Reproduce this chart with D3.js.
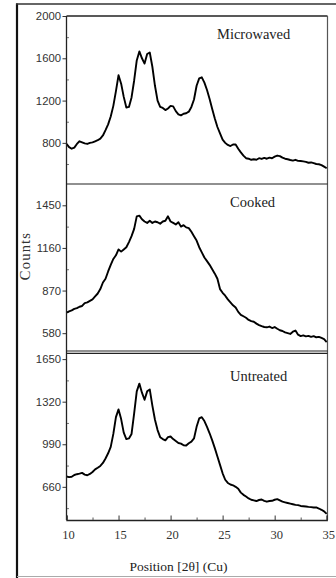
<!DOCTYPE html>
<html>
<head>
<meta charset="utf-8">
<script src="https://cdn.jsdelivr.net/npm/d3@7"></script>
<style>
  html, body { margin: 0; padding: 0; background: #fff; }
  svg { display: block; }
</style>
</head>
<body>
<svg id="chart" width="336" height="578"></svg>
<script>
// Diffraction angle (2θ, degrees) shared by all three patterns
const twoTheta = [
  10, 10.25, 10.5, 10.75, 11, 11.25, 11.5, 11.75, 12, 12.25, 12.5, 12.75,
  13, 13.25, 13.5, 13.75, 14, 14.25, 14.5, 14.75, 15, 15.25, 15.5, 15.75,
  16, 16.25, 16.5, 16.75, 17, 17.25, 17.5, 17.75, 18, 18.25, 18.5, 18.75,
  19, 19.25, 19.5, 19.75, 20, 20.25, 20.5, 20.75, 21, 21.25, 21.5, 21.75,
  22, 22.25, 22.5, 22.75, 23, 23.25, 23.5, 23.75, 24, 24.25, 24.5, 24.75,
  25, 25.25, 25.5, 25.75, 26, 26.25, 26.5, 26.75, 27, 27.25, 27.5, 27.75,
  28, 28.25, 28.5, 28.75, 29, 29.25, 29.5, 29.75, 30, 30.25, 30.5, 30.75,
  31, 31.25, 31.5, 31.75, 32, 32.25, 32.5, 32.75, 33, 33.25, 33.5, 33.75,
  34, 34.25, 34.5, 34.75, 35
];

// Counts for each sample
const microwaved = [
  790, 760, 745, 755, 790, 815, 805, 795, 790, 800, 805, 815,
  825, 840, 870, 920, 975, 1050, 1150, 1290, 1440, 1360, 1235, 1135,
  1140, 1230, 1390, 1580, 1665, 1600, 1550, 1640, 1655, 1520, 1340, 1200,
  1140, 1130, 1110, 1125, 1150, 1145, 1100, 1070, 1060, 1075, 1080, 1095,
  1140, 1210, 1340, 1410, 1420, 1370, 1300, 1215, 1120, 1030, 950, 890,
  830, 800, 780, 770, 785, 785, 745, 710, 680, 655, 650, 640,
  645, 640, 655, 648, 658, 650, 660, 655, 670, 680, 675, 660,
  650, 645, 638, 632, 640, 630, 628, 625, 620, 612, 615, 608,
  600, 598, 590, 575, 560
];

const cooked = [
  720, 728, 735, 745, 750, 760, 765, 785, 790, 800, 810, 830,
  850, 880, 925, 950, 1000, 1045, 1085, 1110, 1150, 1135, 1150, 1165,
  1200, 1240, 1290, 1375, 1380, 1355, 1340, 1330, 1345, 1330, 1340, 1335,
  1325, 1340, 1345, 1375, 1340, 1330, 1320, 1335, 1305, 1315, 1300, 1295,
  1270, 1240, 1210, 1165, 1130, 1095, 1070, 1045, 1015, 985, 950, 880,
  855, 835, 810, 790, 770, 755, 725, 705, 695, 685, 670, 662,
  658, 645, 635, 628, 622, 620, 625, 615, 622, 610, 600, 595,
  585, 580, 575, 590, 598, 570, 560, 565, 558, 562, 555, 560,
  552, 555, 548, 540, 520
];

const untreated = [
  740, 735, 738, 752, 758, 762, 768, 755, 750, 760, 775, 795,
  808, 822, 845, 880, 920, 970, 1070, 1200, 1260, 1185, 1080, 1030,
  1035, 1070, 1230, 1400, 1460, 1390, 1335, 1400, 1415, 1290, 1180, 1100,
  1045, 1030, 1020, 1045, 1050, 1030, 1015, 1000, 995, 982, 980, 998,
  1010, 1035, 1125, 1190, 1200, 1170, 1125, 1075, 1020, 960, 895, 830,
  765, 715, 690, 678, 672, 660, 645, 615, 598, 585, 570, 560,
  555, 550, 558, 562, 552, 545, 550, 552, 560, 565, 555, 545,
  540, 535, 530, 525, 520, 518, 512, 510, 508, 505, 503, 500,
  500, 492, 482, 470, 450
];

// Sample names and axis ticks
const sampleNames = ["Microwaved", "Cooked", "Untreated"];
const xTicks = [10, 15, 20, 25, 30, 35];
const xMinorTicks = [12.5, 17.5, 22.5, 27.5, 32.5];
const microwavedTicks = [800, 1200, 1600, 2000];
const microwavedMinor = [600, 1000, 1400, 1800];
const cookedTicks = [580, 870, 1160, 1450];
const cookedMinor = [725, 1015, 1305];
const untreatedTicks = [660, 990, 1320, 1650];
const untreatedMinor = [495, 825, 1155, 1485];

const svg = d3.select("#chart");
const W = 336, H = 578;

const plotLeft = 66.5, plotRight = 327.5;
const panelTops = [16, 184, 352];
const panelH = 168;

const x = d3.scaleLinear().domain([10, 35]).range([plotLeft, plotRight - 0.8]);

const panels = [
  { name: sampleNames[0], values: microwaved, domain: [411, 2000], ticks: microwavedTicks, minor: microwavedMinor, lx: 217, ly: 39 },
  { name: sampleNames[1], values: cooked, domain: [452, 1595], ticks: cookedTicks, minor: cookedMinor, lx: 230, ly: 207 },
  { name: sampleNames[2], values: untreated, domain: [403, 1705], ticks: untreatedTicks, minor: untreatedMinor, lx: 230, ly: 381 }
];

const frameColor = "#222";

// Outer figure border
svg.append("line").attr("x1", 17).attr("x2", 17).attr("y1", 3.5).attr("y2", H)
  .attr("stroke", "#111").attr("stroke-width", 2.2);
svg.append("line").attr("x1", 16).attr("x2", W).attr("y1", 4).attr("y2", 4)
  .attr("stroke", "#333").attr("stroke-width", 1.4);
svg.append("line").attr("x1", 17).attr("x2", W).attr("y1", 576.5).attr("y2", 576.5)
  .attr("stroke", "#aaa").attr("stroke-width", 1);

panels.forEach((p, i) => {
  const top = panelTops[i];
  const y = d3.scaleLinear().domain(p.domain).range([top + panelH, top]);
  const g = svg.append("g");

  // major ticks outward with labels
  const axis = d3.axisLeft(y).tickValues(p.ticks).tickSize(4).tickPadding(1.5).tickFormat(d3.format("d"));
  const ga = g.append("g").attr("transform", `translate(${plotLeft},0)`).call(axis);
  ga.select(".domain").remove();
  ga.selectAll(".tick line").attr("stroke", "#333").attr("stroke-width", 1);
  ga.selectAll(".tick text")
    .attr("font-family", "'Liberation Sans', Arial, sans-serif")
    .attr("font-size", 11.3).attr("fill", "#333");

  // minor ticks inward
  const minorAxis = d3.axisLeft(y).tickValues(p.minor).tickSize(-2.5).tickFormat("");
  const gm = g.append("g").attr("transform", `translate(${plotLeft},0)`).call(minorAxis);
  gm.select(".domain").remove();
  gm.selectAll(".tick line").attr("stroke", "#777").attr("stroke-width", 1);

  // diffraction pattern
  const line = d3.line()
    .x((d, k) => x(twoTheta[k]))
    .y(d => y(d));
  g.append("path")
    .datum(p.values)
    .attr("d", line)
    .attr("fill", "none")
    .attr("stroke", "#000")
    .attr("stroke-width", 1.9)
    .attr("stroke-linejoin", "round");

  // sample name
  g.append("text")
    .attr("x", p.lx).attr("y", p.ly)
    .attr("font-family", "'Liberation Serif', 'Times New Roman', serif")
    .attr("font-size", 14.5).attr("fill", "#222")
    .text(p.name);
});

// Plot frame
svg.append("line").attr("x1", plotLeft).attr("x2", plotRight).attr("y1", 16).attr("y2", 16)
  .attr("stroke", frameColor).attr("stroke-width", 1.3);
svg.append("line").attr("x1", plotLeft).attr("x2", plotLeft).attr("y1", 16).attr("y2", 520)
  .attr("stroke", frameColor).attr("stroke-width", 1.3);
svg.append("line").attr("x1", plotRight).attr("x2", plotRight).attr("y1", 16).attr("y2", 520)
  .attr("stroke", "#555").attr("stroke-width", 1.2);
svg.append("line").attr("x1", plotLeft).attr("x2", plotRight).attr("y1", 184).attr("y2", 184)
  .attr("stroke", frameColor).attr("stroke-width", 1.2);
svg.append("line").attr("x1", plotLeft).attr("x2", plotRight).attr("y1", 351).attr("y2", 351)
  .attr("stroke", frameColor).attr("stroke-width", 1.1);
svg.append("line").attr("x1", plotLeft).attr("x2", plotRight).attr("y1", 353.4).attr("y2", 353.4)
  .attr("stroke", frameColor).attr("stroke-width", 1.1);

// Bottom x axis, ticks pointing inward
const xAxis = d3.axisBottom(x).tickValues(xTicks).tickSize(-4.5).tickPadding(10.5).tickFormat(d3.format("d"));
const gx = svg.append("g").attr("transform", "translate(0,520)").call(xAxis);
gx.select(".domain").attr("stroke", frameColor).attr("stroke-width", 1.4);
gx.selectAll(".tick line").attr("stroke", "#333");
gx.selectAll(".tick text")
  .attr("font-family", "'Liberation Serif', 'Times New Roman', serif")
  .attr("font-size", 12.5).attr("fill", "#333").attr("dx", 1.5);

const xMinor = d3.axisBottom(x).tickValues(xMinorTicks).tickSize(-2.5).tickFormat("");
const gxm = svg.append("g").attr("transform", "translate(0,520)").call(xMinor);
gxm.select(".domain").remove();
gxm.selectAll(".tick line").attr("stroke", "#555");

// Axis titles
svg.append("text")
  .attr("x", 178.5).attr("y", 571)
  .attr("text-anchor", "middle")
  .attr("font-family", "'Liberation Serif', 'Times New Roman', serif")
  .attr("font-size", 13.5).attr("fill", "#222")
  .text("Position [2θ] (Cu)");

svg.append("text")
  .attr("transform", "translate(30,256) rotate(-90)")
  .attr("text-anchor", "middle")
  .attr("font-family", "'Liberation Serif', 'Times New Roman', serif")
  .attr("font-size", 14.5).attr("letter-spacing", 1.2).attr("fill", "#333")
  .text("Counts");
</script>
</body>
</html>
